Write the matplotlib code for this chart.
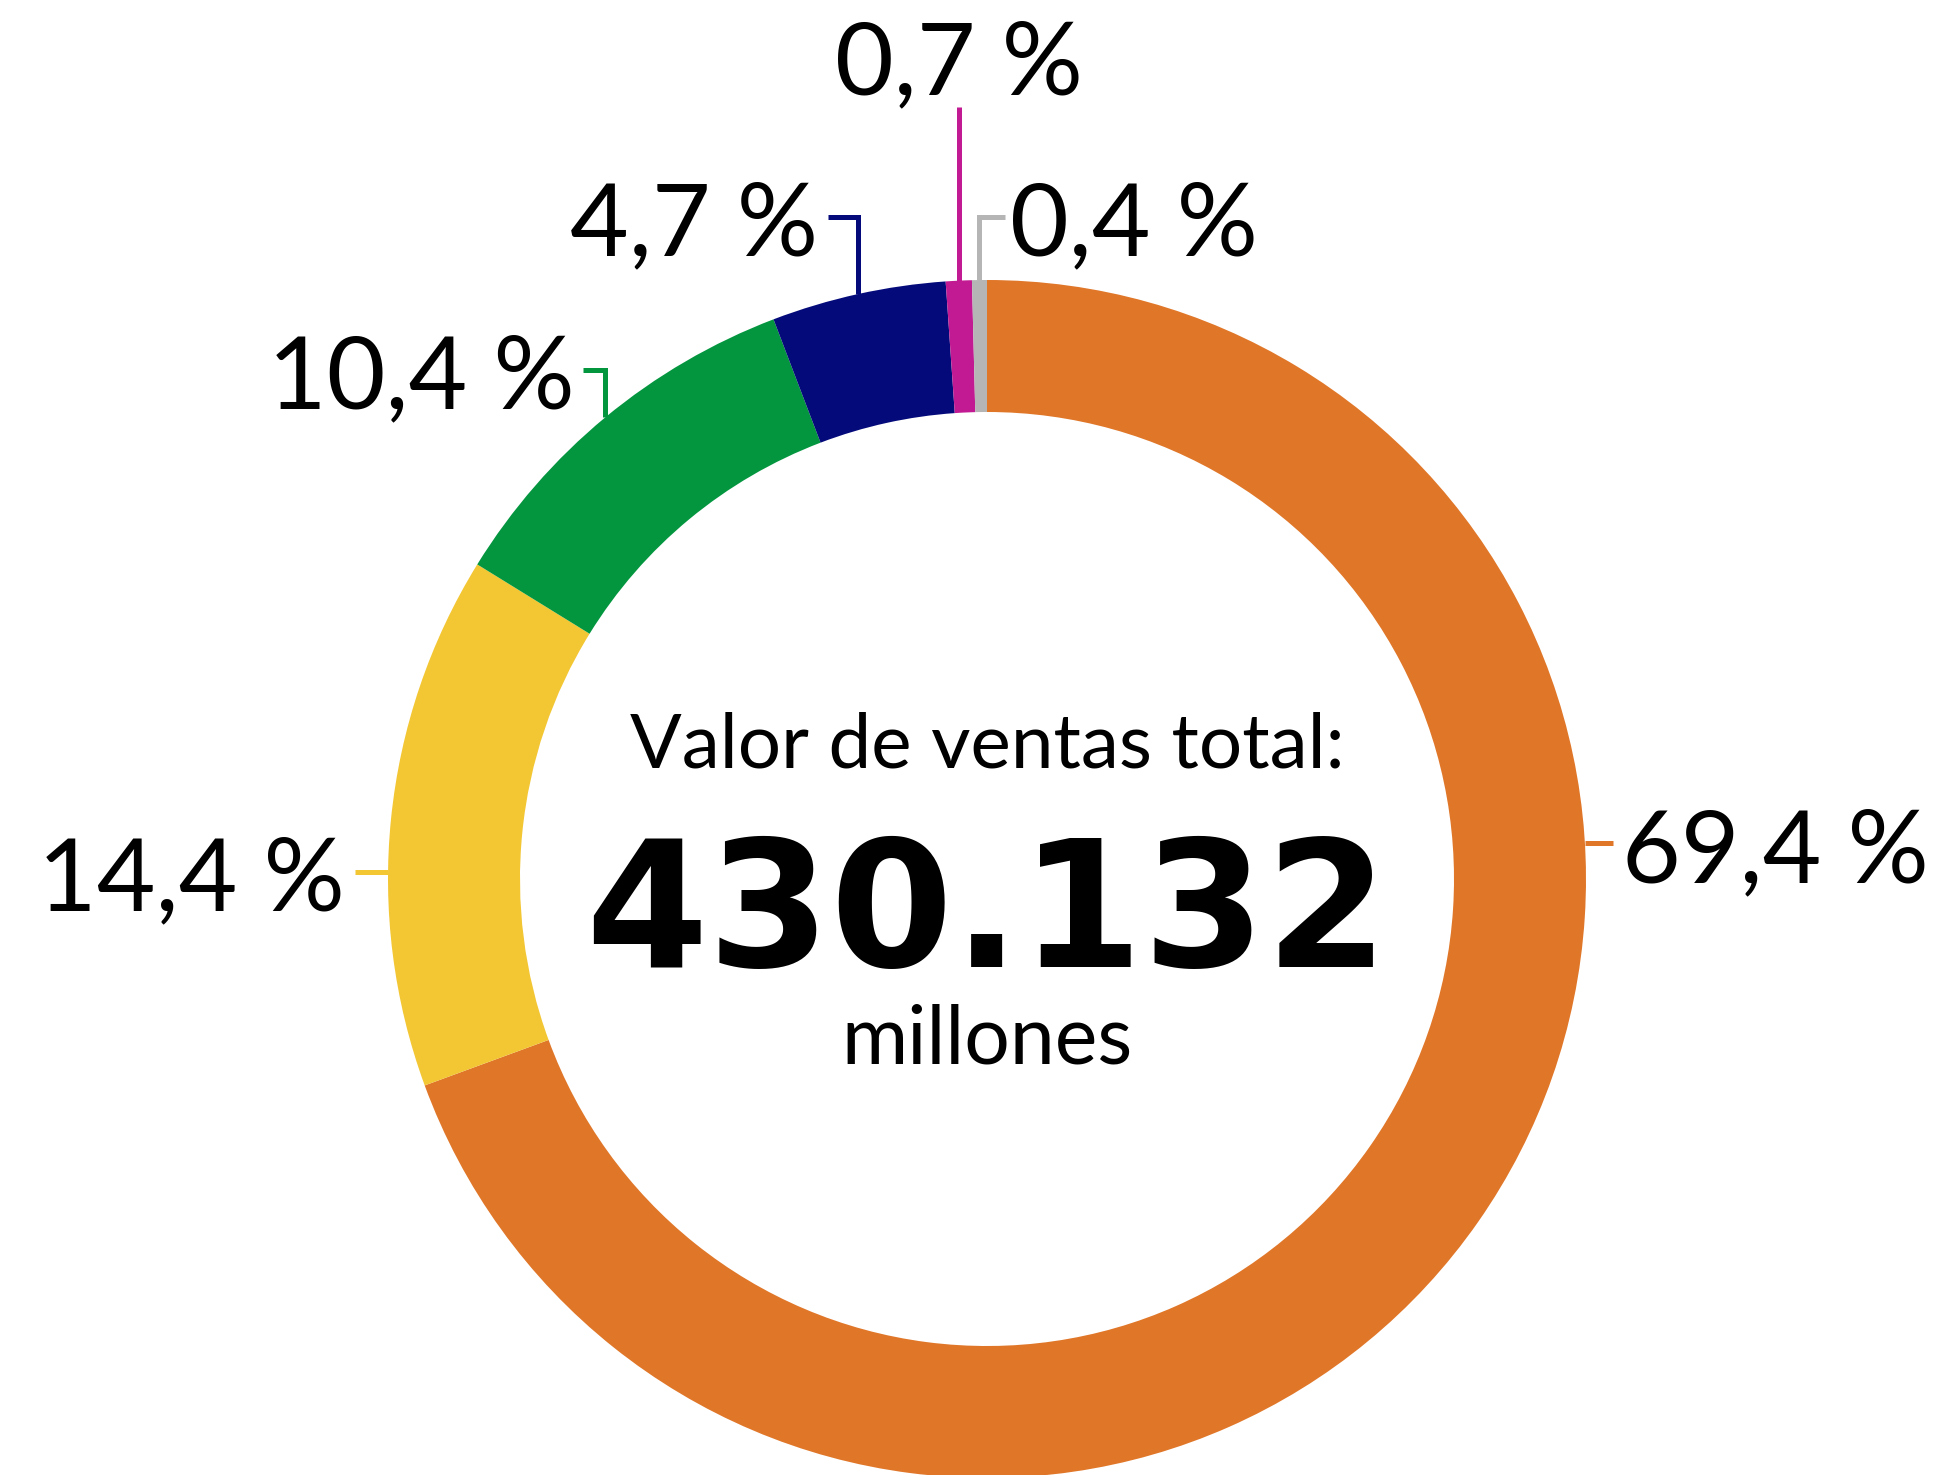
import numpy as np
import matplotlib.pyplot as plt

# shares of total sales value (%)
shares = [69.4, 14.4, 10.4, 4.7, 0.7, 0.4]
labels = ["69,4 %", "14,4 %", "10,4 %", "4,7 %", "0,7 %", "0,4 %"]
colors = ["#E07628", "#F3C634", "#03963F", "#040A7A", "#C11A92", "#B5B5B5"]
total_value = "430.132"

W, H = 1952, 1475
cx, cy = 987, 879        # donut centre in pixel coords (y down)
r_out, ring = 599, 132

fig = plt.figure(figsize=(W / 100, H / 100), dpi=100)
ax = fig.add_axes([0, 0, 1, 1])
ax.pie(shares, colors=colors, startangle=90, counterclock=False,
       center=(cx, H - cy), radius=r_out,
       wedgeprops=dict(width=ring, linewidth=0))
ax.set_xlim(0, W)
ax.set_ylim(0, H)
ax.set_aspect("equal")
ax.axis("off")

# mid angle of every wedge, clockwise from 12 o'clock
cum = np.cumsum([0] + shares)
mids = (cum[:-1] + cum[1:]) / 2 / 100 * 2 * np.pi


def edge(theta):
    return cx + r_out * np.sin(theta), cy - r_out * np.cos(theta)


def line(xs, ys, color):
    ax.plot(xs, [H - y for y in ys], color=color, lw=3.6,
            solid_capstyle="butt", solid_joinstyle="miter")


def label(x, y, s, ha):
    ax.text(x, H - y, s, ha=ha, va="baseline", fontsize=73,
            family="Lato", color="black")


# orange: horizontal leader to the right
yo = 843
xo = cx + np.sqrt(r_out**2 - (yo - cy)**2)
line([xo, 1613], [yo, yo], colors[0])
label(1622, 882, labels[0], "left")

# yellow: horizontal leader to the left
yy = 872
xy = cx - np.sqrt(r_out**2 - (yy - cy)**2)
line([xy, 355], [yy, yy], colors[1])
label(345, 910, labels[1], "right")

# green
gx, gy = edge(mids[2])
line([gx, gx, 583], [gy, 370, 370], colors[2])
label(575, 408, labels[2], "right")

# navy
nx, ny = edge(mids[3])
line([nx, nx, 828], [ny, 217, 217], colors[3])
label(818, 255, labels[3], "right")

# magenta
mx, my = edge(mids[4])
line([mx, mx], [my, 107], colors[4])
label(mx, 94, labels[4], "center")

# gray
sx, sy = edge(mids[5])
line([sx, sx, 1005], [sy, 217, 217], colors[5])
label(1010, 255, labels[5], "left")

# centre text
ax.text(cx, H - 768, "Valor de ventas total:", ha="center", va="baseline",
        fontsize=55, family="Lato")
ax.text(cx, H - 967, total_value, ha="center", va="baseline",
        fontsize=127, family="DejaVu Sans", fontweight="bold")
ax.text(cx, H - 1064, "millones", ha="center", va="baseline",
        fontsize=58, family="Lato")

fig.savefig("out.png", dpi=100, facecolor="white")
